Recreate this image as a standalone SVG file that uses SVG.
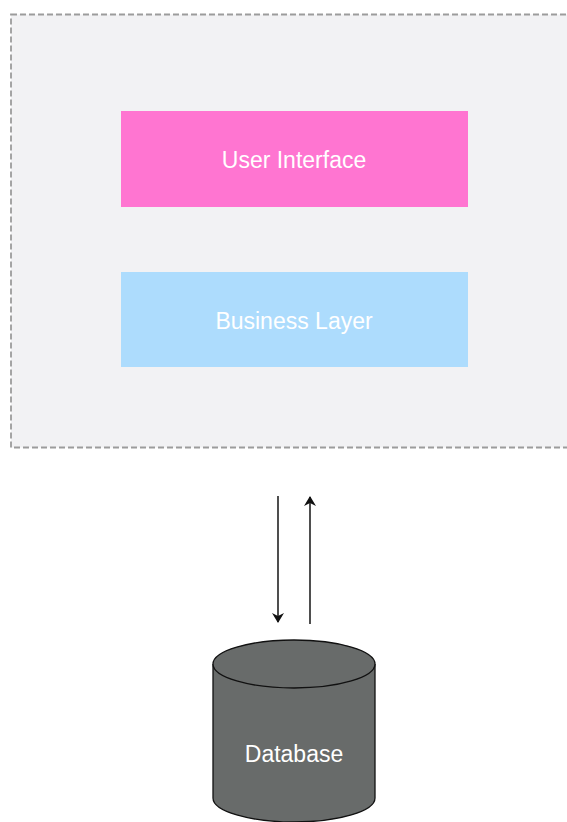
<svg xmlns="http://www.w3.org/2000/svg" width="567" height="822" viewBox="0 0 567 822">
<style>
.lbl{font-family:"Liberation Sans",Arial,sans-serif;font-size:23px;fill:#ffffff;text-anchor:middle}
.conn{stroke:#222;stroke-width:1.6;fill:none}
</style>
<defs>
<marker id="ah" viewBox="0 0 10 12" refX="9" refY="6" markerWidth="10" markerHeight="12" orient="auto" markerUnits="userSpaceOnUse">
<path d="M0,0 L10,6 L0,12 L3,6 Z" fill="#111"/>
</marker>
</defs>
<rect width="567" height="822" fill="#ffffff"/>
<g id="container">
<rect x="11" y="14.5" width="580" height="433" fill="#f2f2f4" stroke="#9c9c9c" stroke-width="1.8" stroke-dasharray="6 3"/>
</g>
<g id="ui">
<rect x="121" y="111" width="347" height="96" fill="#ff75d1"/>
<text class="lbl" x="294" y="168">User Interface</text>
</g>
<g id="business">
<rect x="121" y="272" width="347" height="95" fill="#addcfd"/>
<text class="lbl" x="294" y="329">Business Layer</text>
</g>
<g id="connectors">
<line class="conn" x1="278" y1="496" x2="278" y2="622" marker-end="url(#ah)"/>
<line class="conn" x1="310" y1="624" x2="310" y2="497" marker-end="url(#ah)"/>
</g>
<g id="database">
<path d="M213,664 L213,798 A81,24 0 0 0 375,798 L375,664" fill="#686b6a" stroke="#111" stroke-width="1.3"/>
<ellipse cx="294" cy="664" rx="81" ry="24" fill="#686b6a" stroke="#111" stroke-width="1.3"/>
<text class="lbl" x="294" y="762">Database</text>
</g>
</svg>
